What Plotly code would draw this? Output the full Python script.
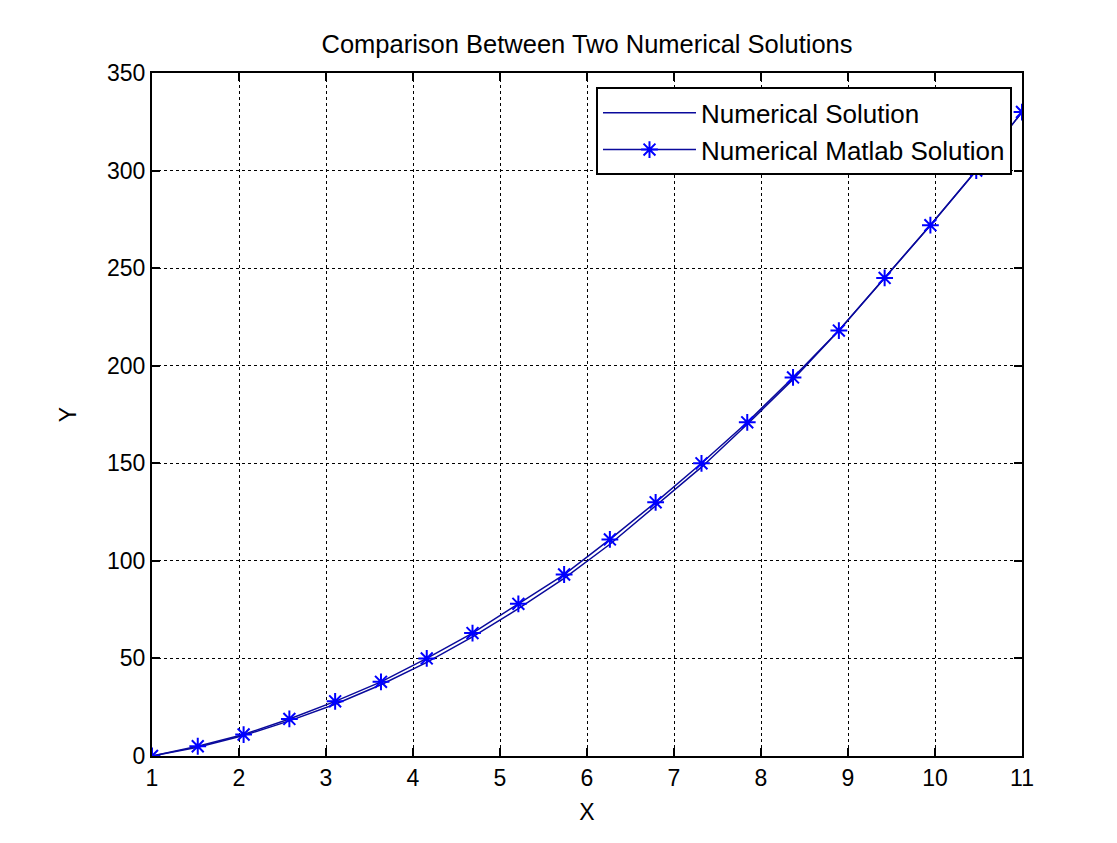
import plotly.graph_objects as go

x_vals = [1.0, 1.526, 2.053, 2.579, 3.105, 3.632, 4.158, 4.684, 5.211, 5.737,
          6.263, 6.789, 7.316, 7.842, 8.368, 8.895, 9.421, 9.947, 10.474, 11.0]
matlab_y = [0, 5, 11, 19, 28, 38, 50, 63, 78, 93,
            111, 130, 150, 171, 194, 218, 245, 272, 300, 330]
numerical_y = [0, 4.5, 10.5, 18, 26.5, 36.5, 48, 61, 75.5, 91,
               108.5, 128, 148, 170, 193, 218, 245, 272, 300, 330]

x_ticks = [1, 2, 3, 4, 5, 6, 7, 8, 9, 10, 11]
y_ticks = [0, 50, 100, 150, 200, 250, 300, 350]

font_family = "Liberation Sans, Arial, sans-serif"

fig = go.Figure()
fig.add_trace(go.Scatter(
    x=x_vals, y=numerical_y, mode="lines", name="Numerical Solution",
    line=dict(color="#0a0a9c", width=1.5),
))
fig.add_trace(go.Scatter(
    x=x_vals, y=matlab_y, mode="lines+markers", name="Numerical Matlab Solution",
    line=dict(color="#0a0a9c", width=1.5),
    marker=dict(symbol="asterisk-open", size=14, color="#0000ff",
                line=dict(color="#0000ff", width=2)),
))

axis_common = dict(
    showline=True, linecolor="black", linewidth=2, mirror="ticks",
    ticks="inside", ticklen=8, tickcolor="black", tickwidth=1.5,
    showgrid=True, gridcolor="black", gridwidth=1, griddash="dot",
    zeroline=False, tickfont=dict(family=font_family, size=23, color="black"),
)

fig.update_layout(
    width=1117, height=843,
    paper_bgcolor="white", plot_bgcolor="white",
    margin=dict(l=144, r=103, t=65, b=95),
    title=dict(text="Comparison Between Two Numerical Solutions",
               x=(144 + 435) / 1117, xanchor="center", y=1 - 36 / 843, yanchor="middle",
               font=dict(family=font_family, size=25.5, color="black")),
    xaxis=dict(range=[1, 11], tickvals=x_ticks,
               title=dict(text="X", font=dict(family=font_family, size=23, color="black"), standoff=14),
               **axis_common),
    yaxis=dict(range=[0, 350], tickvals=y_ticks,
               title=dict(text="Y", font=dict(family=font_family, size=23, color="black"), standoff=24),
               **axis_common),
    legend=dict(x=0.9885, xanchor="right", y=0.979, yanchor="top",
                bgcolor="white", bordercolor="black", borderwidth=2,
                font=dict(family=font_family, size=26, color="black"),
                itemwidth=93, tracegroupgap=0),
    showlegend=True,
)

fig.write_html("out.html")
